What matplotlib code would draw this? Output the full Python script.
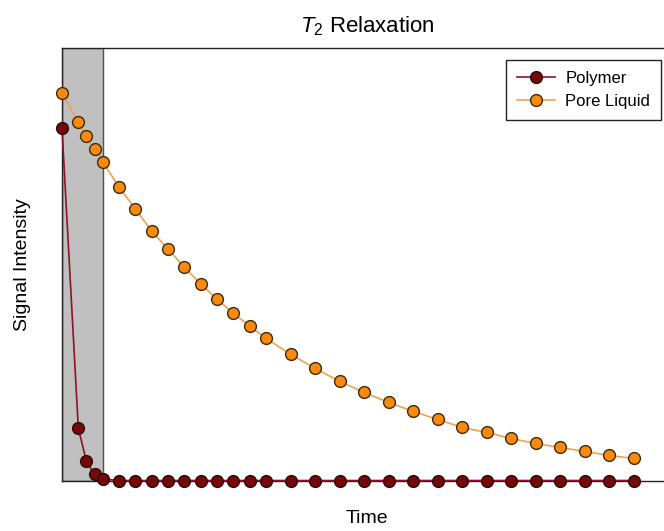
import matplotlib.pyplot as plt
import numpy as np

plt.rcParams['font.family'] = ['Liberation Sans', 'DejaVu Sans']
plt.rcParams['mathtext.fontset'] = 'custom'
plt.rcParams['mathtext.it'] = 'Liberation Sans:italic'
plt.rcParams['mathtext.rm'] = 'Liberation Sans'

# echo times (arbitrary units)
t = [0, 1, 1.5, 2, 2.5, 3.5, 4.5, 5.5, 6.5, 7.5, 8.5, 9.5, 10.5, 11.5, 12.5,
     14, 15.5, 17, 18.5, 20, 21.5, 23, 24.5, 26, 27.5, 29, 30.5, 32, 33.5, 35]

polymer = [352, 52, 19, 6, 1.5] + [0] * 25
pore_liquid = [387, 358, 344, 331, 318, 293, 271, 249, 231, 213, 196, 181, 167,
               154, 142, 126, 112, 99, 88, 78, 69, 61, 53, 48, 42, 37, 33, 29,
               25, 22]

band = (0, 2.5)  # shaded window where polymer signal decays

fig = plt.figure(figsize=(6.64, 5.31), dpi=100)
ax = fig.add_axes([62 / 664, 50.5 / 531, 610 / 664, 432.5 / 531])

ax.axvspan(band[0], band[1], facecolor='#c0c0c0', edgecolor='#505050', lw=1.0, zorder=0)

ax.plot(t, polymer, '-o', color='#8e1228', lw=1.2, ms=8.5,
        mfc='#760808', mec='#2a0a0a', mew=1.0, label='Polymer', clip_on=False, zorder=3)
ax.plot(t, pore_liquid, '-o', color='#f2a24a', lw=1.2, ms=8.5,
        mfc='#fb8a0c', mec='#3a2a10', mew=1.0, label='Pore Liquid', clip_on=False, zorder=3)

ax.set_xlim(0, 37.35)
ax.set_ylim(0, 432)
ax.set_xticks([])
ax.set_yticks([])
for s in ax.spines.values():
    s.set_color('#222222')
    s.set_linewidth(1.0)

ax.set_title('$T_2$ Relaxation', fontsize=16, pad=11)
ax.set_xlabel('Time', fontsize=14, labelpad=21)
ax.set_ylabel('Signal Intensity', fontsize=14, labelpad=22)

leg = ax.legend(loc='upper right', bbox_to_anchor=(661 / 664, 471 / 531),
                bbox_transform=fig.transFigure, fontsize=12, fancybox=False,
                framealpha=1, edgecolor='#222222', borderaxespad=0,
                handlelength=2.3, handletextpad=0.6, borderpad=0.65,
                labelspacing=0.5)
leg.get_frame().set_linewidth(1.0)

fig.savefig('out.png', dpi=100)
